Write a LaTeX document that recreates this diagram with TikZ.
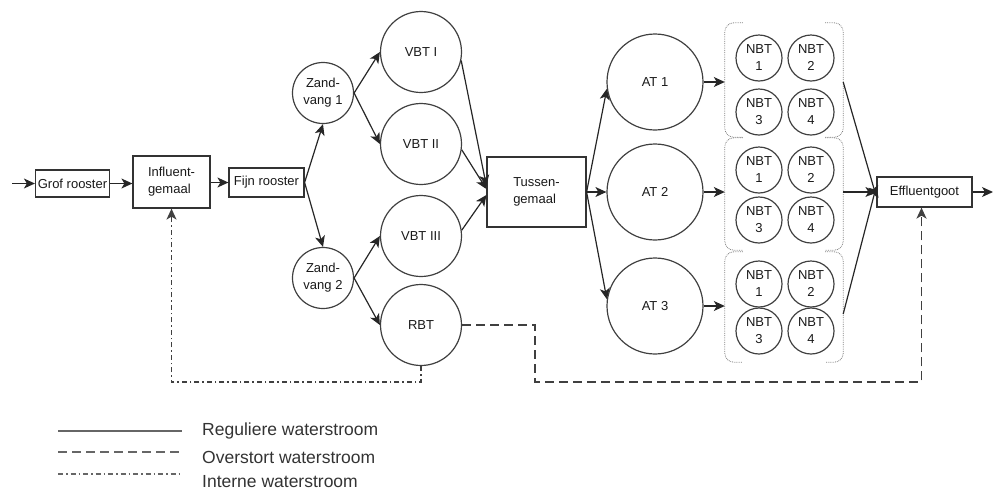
\documentclass[tikz,border=0pt]{standalone}
\usepackage{fontspec}
\setmainfont{Liberation Sans}
\usetikzlibrary{arrows.meta,calc}
\begin{document}
\begin{tikzpicture}[x=1pt,y=-1pt,
  every node/.style={font=\fontsize{13}{17}\selectfont, inner sep=0pt, text=black!90},
  box/.style={draw=black!80, line width=1.2pt, fill=white},
  circ/.style={circle, draw=black!75, line width=1.2pt, align=center},
  nbt/.style={circ, minimum size=46pt},
  grp/.style={minimum width=118pt, inner sep=0pt},
  tip/.style={-{Stealth[length=11pt,width=10pt,inset=3pt]}},
  flow/.style={tip, line width=1.2pt, draw=black!85},
  over/.style={line width=1.7pt, draw=black!75, dash pattern=on 9pt off 5pt},
  intern/.style={line width=1.4pt, draw=black!75, dash pattern=on 5pt off 3pt on 1.5pt off 3pt},
  bracket/.style={draw=black!50, line width=0.8pt, densely dotted, rounded corners=9pt},
  legtext/.style={anchor=west, font=\fontsize{17.5}{20}\selectfont, text=black!80}
]
\useasboundingbox (0,0) rectangle (994,491);

% main line
\coordinate (in) at (12,183.5);
\node[box, minimum width=74pt, minimum height=27pt] (grof) at (72.5,183.5) {Grof rooster};
\node[box, minimum width=77pt, minimum height=52pt, align=left] (infl) at (171.5,182) {Influent-\\gemaal};
\node[box, minimum width=75pt, minimum height=29pt] (fijn) at (266.5,182.5) {Fijn rooster};

\node[circ, minimum size=61pt] (zv1) at (323,93) {Zand-\\vang 1};
\node[circ, minimum size=61pt] (zv2) at (323,278) {Zand-\\vang 2};

\node[circ, minimum size=81pt] (vbt1) at (421,52) {VBT I};
\node[circ, minimum size=81pt] (vbt2) at (421,144) {VBT II};
\node[circ, minimum size=81pt] (vbt3) at (421,236) {VBT III};
\node[circ, minimum size=81pt] (rbt) at (421,325) {RBT};

\node[box, minimum width=99pt, minimum height=70pt, align=left] (tg) at (536.5,192) {Tussen-\\gemaal};

\node[circ, minimum size=96pt] (at1) at (655,82) {AT 1};
\node[circ, minimum size=96pt] (at2) at (655,192) {AT 2};
\node[circ, minimum size=96pt] (at3) at (655,306) {AT 3};

% groups
\node[grp, minimum height=114pt] (g1) at (784,80) {};
\node[grp, minimum height=112pt] (g2) at (784,194) {};
\node[grp, minimum height=110pt] (g3) at (784,307) {};
\foreach \g in {g1,g2,g3}{
  \draw[bracket] ($(\g.north west)+(18,0)$) -- (\g.north west) -- (\g.south west) -- ($(\g.south west)+(18,0)$);
  \draw[bracket] ($(\g.north east)+(-18,0)$) -- (\g.north east) -- (\g.south east) -- ($(\g.south east)+(-18,0)$);
}

\node[nbt] (n11) at (759,58) {NBT\\1};
\node[nbt] (n12) at (811,58) {NBT\\2};
\node[nbt] (n13) at (759,112) {NBT\\3};
\node[nbt] (n14) at (811,112) {NBT\\4};
\node[nbt] (n21) at (759,170) {NBT\\1};
\node[nbt] (n22) at (811,170) {NBT\\2};
\node[nbt] (n23) at (759,220) {NBT\\3};
\node[nbt] (n24) at (811,220) {NBT\\4};
\node[nbt] (n31) at (759,284) {NBT\\1};
\node[nbt] (n32) at (811,284) {NBT\\2};
\node[nbt] (n33) at (759,331) {NBT\\3};
\node[nbt] (n34) at (811,331) {NBT\\4};

\node[box, minimum width=95pt, minimum height=30pt] (eff) at (924.5,192) {Effluentgoot};
\coordinate (out) at (993,192);

% regular flow
\draw[flow] (in) -- (grof.west);
\draw[flow] (grof.east) -- (grof.east -| infl.west);
\draw[flow] (fijn.west -| infl.east) -- (fijn.west);
\draw[flow] (fijn.east) -- (zv1.south);
\draw[flow] (fijn.east) -- (zv2.north);
\draw[flow] (zv1.east) -- (vbt1.west);
\draw[flow] (zv1.east) -- (vbt2.west);
\draw[flow] (zv2.east) -- (vbt3.west);
\draw[flow] (zv2.east) -- (rbt.west);
\draw[flow] (vbt1.-12) -- ($(tg.west)+(0,-6)$);
\draw[flow] (vbt2.-8) -- ($(tg.west)+(0,-3)$);
\draw[flow] (vbt3.8) -- ($(tg.west)+(0,3)$);
\draw[flow] (tg.east) -- (at1.188);
\draw[flow] (tg.east) -- (at2.west);
\draw[flow] (tg.east) -- (at3.172);
\draw[flow] (at1.east) -- (at1.east -| g1.west);
\draw[flow] (at2.east) -- (at2.east -| g2.west);
\draw[flow] (at3.east) -- (at3.east -| g3.west);
\draw[flow] ($(g1.east)+(0,2)$) -- ($(eff.west)+(0,5)$);
\draw[flow] (eff.west -| g2.east) -- (eff.west);
\draw[flow] ($(g3.east)+(0,7)$) -- ($(eff.west)+(0,-6)$);
\draw[flow] (eff.east) -- (out);

% overflow
\coordinate (ov1) at (535,382);
\draw[over, tip] (rbt.east) -| (ov1) -| ($(eff.south)+(-3,0)$);

% internal
\coordinate (iv) at (421,382);
\draw[intern, tip] (rbt.south) -- (iv) -| (infl.south);

% legend
\coordinate (l1a) at (58,431); \coordinate (l1b) at (182,431);
\coordinate (l2a) at (58,452); \coordinate (l2b) at (182,452);
\coordinate (l3a) at (58,474); \coordinate (l3b) at (182,474);
\draw[line width=1.4pt, draw=black!60] (l1a) -- (l1b);
\draw[line width=1.6pt, draw=black!60, dash pattern=on 9pt off 5pt] (l2a) -- (l2b);
\draw[line width=1.3pt, draw=black!60, dash pattern=on 5pt off 3pt on 1.5pt off 3pt] (l3a) -- (l3b);
\node[legtext] (t1) at (202,431) {Reguliere waterstroom};
\node[legtext] (t2) at (202,457) {Overstort waterstroom};
\node[legtext] (t3) at (202,482) {Interne waterstroom};
\end{tikzpicture}
\end{document}
